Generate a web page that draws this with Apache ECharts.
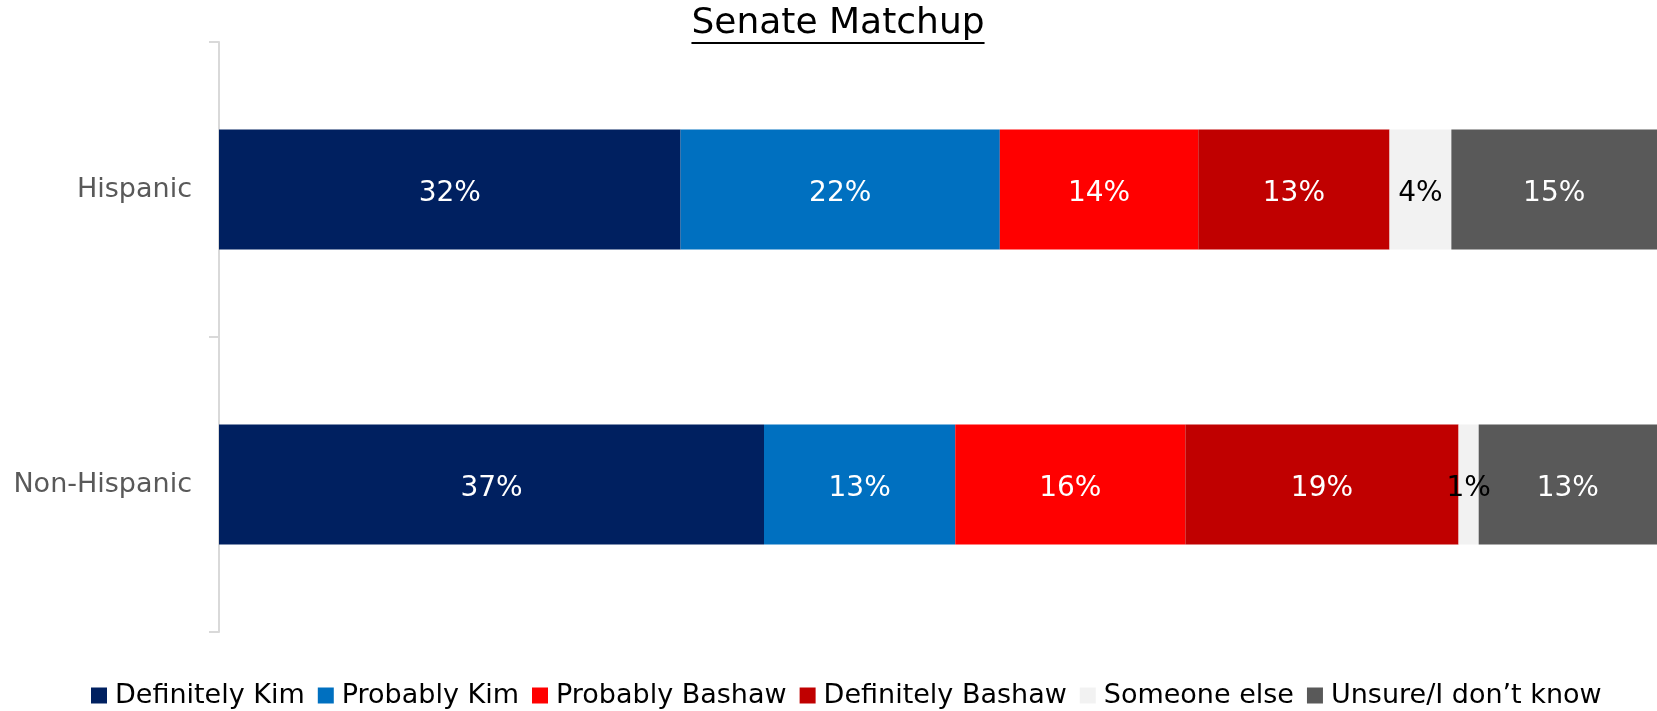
<!DOCTYPE html>
<html>
<head>
<meta charset="utf-8">
<script src="https://cdn.jsdelivr.net/npm/echarts@6/dist/echarts.min.js"></script>
<style>
html,body{margin:0;padding:0;background:#fff;}
#chart{width:1657px;height:711px;}
</style>
</head>
<body>
<div id="chart"></div>
<script>
// Categories (top to bottom)
const groups = ['Hispanic', 'Non-Hispanic'];
const seriesNames = ['Definitely Kim', 'Probably Kim', 'Probably Bashaw', 'Definitely Bashaw', 'Someone else', 'Unsure/I don\u2019t know'];

// Bar lengths (share of each group, %): [Hispanic, Non-Hispanic]
const definitelyKim    = [32.1, 37.9];
const probablyKim      = [22.2, 13.3];
const probablyBashaw   = [13.8, 16.0];
const definitelyBashaw = [13.3, 19.0];
const someoneElse      = [4.3, 1.4];
const unsure           = [14.3, 12.4];

// Printed data labels
const definitelyKimLabels    = ['32%', '37%'];
const probablyKimLabels      = ['22%', '13%'];
const probablyBashawLabels   = ['14%', '16%'];
const definitelyBashawLabels = ['13%', '19%'];
const someoneElseLabels      = ['4%', '1%'];
const unsureLabels           = ['15%', '13%'];

const colors = ['#002060', '#0070C0', '#FF0000', '#C00000', '#F2F2F2', '#595959'];
const labelColors = ['#FFFFFF', '#FFFFFF', '#FFFFFF', '#FFFFFF', '#000000', '#FFFFFF'];

const valueSets = [definitelyKim, probablyKim, probablyBashaw, definitelyBashaw, someoneElse, unsure];
const labelSets = [definitelyKimLabels, probablyKimLabels, probablyBashawLabels, definitelyBashawLabels, someoneElseLabels, unsureLabels];

const FONT = 'DejaVu Sans';
const chart = echarts.init(document.getElementById('chart'), null, {renderer: 'canvas'});

const series = seriesNames.map((name, i) => ({
  name: name,
  type: 'bar',
  stack: 'total',
  barWidth: 120,
  itemStyle: {color: colors[i]},
  label: {
    show: true,
    position: 'inside',
    offset: [0, 4],
    color: labelColors[i],
    fontFamily: FONT,
    fontSize: 28,
    formatter: p => labelSets[i][p.dataIndex]
  },
  emphasis: {disabled: true},
  data: valueSets[i]
}));

// Title with underline
const titleText = 'Senate Matchup';
const titleSize = 36;
const cx = 838;
const ctx = document.createElement('canvas').getContext('2d');
ctx.font = titleSize + 'px "' + FONT + '"';
const tw = ctx.measureText(titleText).width;

chart.setOption({
  animation: false,
  backgroundColor: '#FFFFFF',
  graphic: [
    {type: 'text', left: cx - tw / 2, top: 6,
     style: {text: titleText, font: titleSize + 'px "' + FONT + '"', fill: '#000000'}},
    {type: 'rect', shape: {x: cx - tw / 2, y: 42, width: tw, height: 2},
     style: {fill: '#000000'}}
  ],
  legend: {
    data: seriesNames,
    left: 86,
    top: 677,
    icon: 'rect',
    itemWidth: 16,
    itemHeight: 16,
    itemGap: 13,
    textStyle: {fontFamily: FONT, fontSize: 27, color: '#000000', padding: [0, 0, 0, 3]},
    selectedMode: false
  },
  grid: {left: 219, right: 0, top: 42, bottom: 79, containLabel: false},
  xAxis: {
    type: 'value',
    min: 0,
    max: 100,
    show: false
  },
  yAxis: {
    type: 'category',
    data: groups,
    inverse: true,
    axisLine: {show: true, lineStyle: {color: '#D9D9D9', width: 2}},
    axisTick: {show: true, length: 10, lineStyle: {color: '#D9D9D9', width: 2}},
    axisLabel: {fontFamily: FONT, fontSize: 27, color: '#595959', margin: 27, padding: [8, 0, 0, 0]}
  },
  series: series
});
</script>
</body>
</html>
